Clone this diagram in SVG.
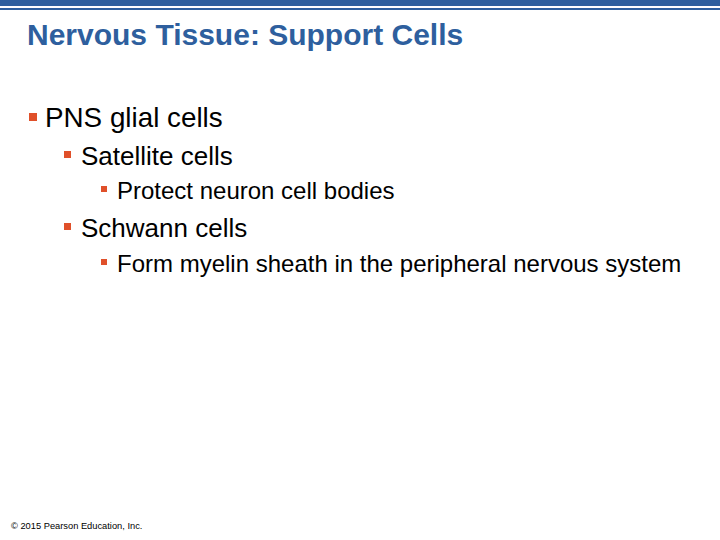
<svg xmlns="http://www.w3.org/2000/svg" width="720" height="540" viewBox="0 0 720 540">
<style>
text{font-family:"Liberation Sans",Arial,sans-serif;fill:#000}
.b{fill:#e0502a}
</style>
<rect width="720" height="540" fill="#fff"/>
<rect x="0" y="0" width="720" height="6" fill="#2e5f9e"/>
<rect x="0" y="8" width="720" height="2" fill="#2e5f9e"/>
<text x="27" y="45" font-size="30" font-weight="bold" style="fill:#2e5f9e">Nervous Tissue: Support Cells</text>
<rect class="b" x="29" y="113" width="8" height="8"/>
<text x="45" y="127" font-size="27.8">PNS glial cells</text>
<rect class="b" x="64" y="151" width="7" height="7"/>
<text x="81" y="165" font-size="26">Satellite cells</text>
<rect class="b" x="101" y="186" width="6" height="6"/>
<text x="117" y="199" font-size="24">Protect neuron cell bodies</text>
<rect class="b" x="64" y="223" width="7" height="7"/>
<text x="81" y="237" font-size="26">Schwann cells</text>
<rect class="b" x="101" y="259" width="6" height="6"/>
<text x="117" y="272" font-size="24">Form myelin sheath in the peripheral nervous system</text>
<text x="11" y="529" font-size="9.3">© 2015 Pearson Education, Inc.</text>
</svg>
